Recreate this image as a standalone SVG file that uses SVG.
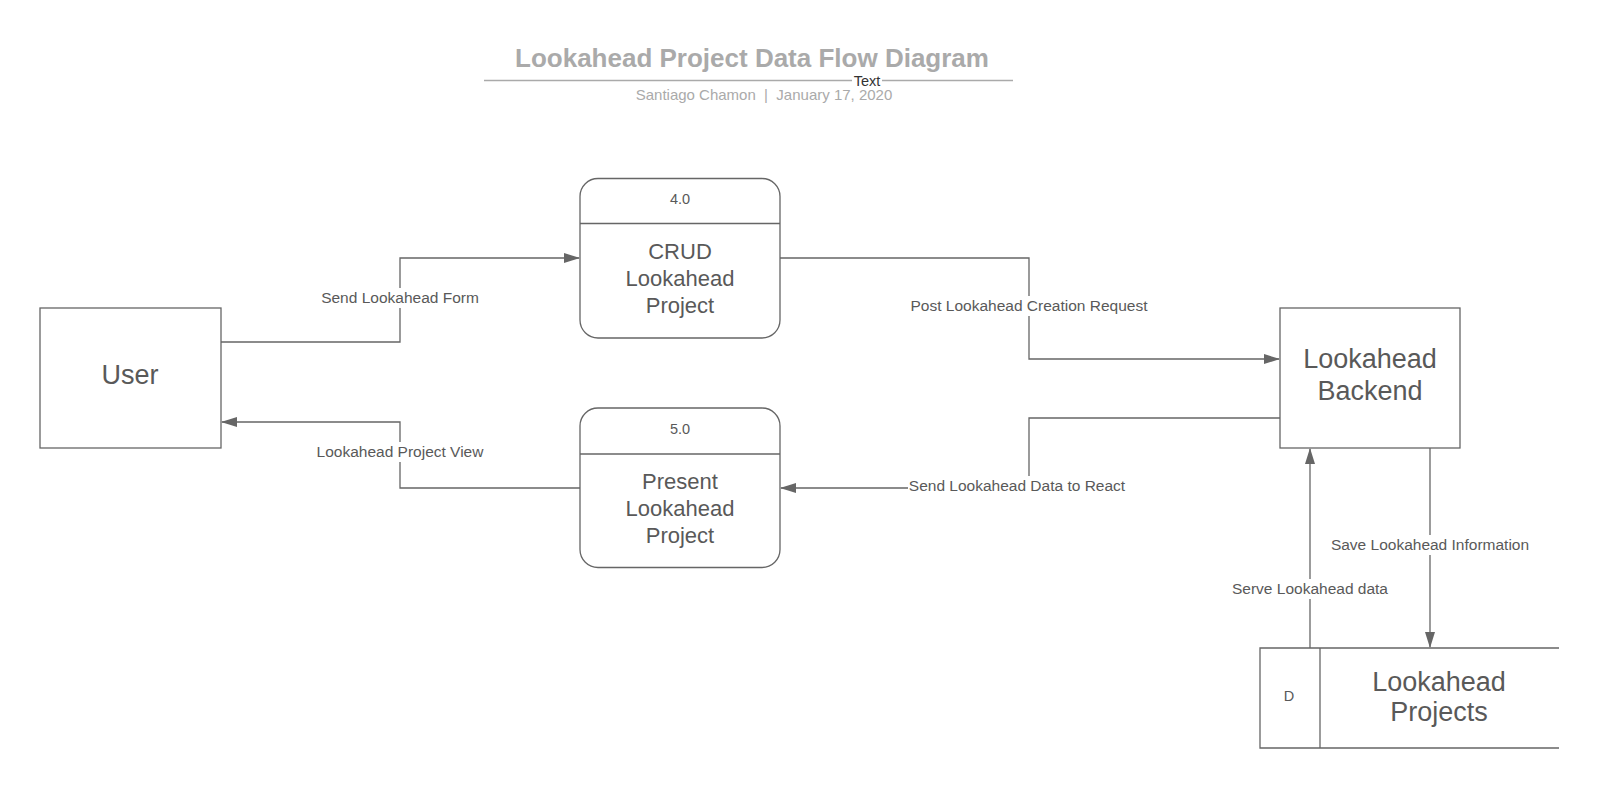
<svg xmlns="http://www.w3.org/2000/svg" width="1600" height="789" viewBox="0 0 1600 789">
<defs>
<marker id="arr" markerWidth="16" markerHeight="10" refX="15" refY="5" orient="auto" markerUnits="userSpaceOnUse">
<path d="M0,0 L16,5 L0,10 Z" fill="#666"/>
</marker>
<style>
text{font-family:"Liberation Sans",Arial,sans-serif;fill:#595959}
.box{fill:#fff;stroke:#666;stroke-width:1.3}
.ln{fill:none;stroke:#666;stroke-width:1.3}
.big{font-size:27px;text-anchor:middle}
.mid{font-size:22px;text-anchor:middle}
.num{font-size:14.5px;text-anchor:middle}
.lbl{font-size:15.5px;text-anchor:middle}
.lblbg{fill:#fff}
</style>
</defs>
<rect width="1600" height="789" fill="#fff"/>
<g id="title">
<text x="752" y="67" style="font-size:26px;font-weight:bold;fill:#aaa;text-anchor:middle">Lookahead Project Data Flow Diagram</text>
<line x1="484" y1="80.5" x2="1013" y2="80.5" stroke="#aaa" stroke-width="1.5"/>
<rect x="852" y="74" width="30" height="12" fill="#fff"/>
<text x="867" y="85.5" style="font-size:14.5px;fill:#333;text-anchor:middle">Text</text>
<text x="764" y="99.5" xml:space="preserve" style="font-size:15px;fill:#aaa;text-anchor:middle;white-space:pre">Santiago Chamon  |  January 17, 2020</text>
</g>
<g id="connectors">
<polyline class="ln" points="221,342 400,342 400,258 579,258" marker-end="url(#arr)"/>
<polyline class="ln" points="580,488 400,488 400,422 222,422" marker-end="url(#arr)"/>
<polyline class="ln" points="780,258 1029,258 1029,359 1279,359" marker-end="url(#arr)"/>
<polyline class="ln" points="1280,418 1029,418 1029,488 781,488" marker-end="url(#arr)"/>
<polyline class="ln" points="1430,448 1430,647" marker-end="url(#arr)"/>
<polyline class="ln" points="1310,648 1310,449" marker-end="url(#arr)"/>
<rect class="lblbg" x="320" y="288" width="160" height="20"/>
<text class="lbl" x="400" y="303">Send Lookahead Form</text>
<rect class="lblbg" x="315" y="442" width="170" height="20"/>
<text class="lbl" x="400" y="457">Lookahead Project View</text>
<rect class="lblbg" x="909" y="296" width="240" height="20"/>
<text class="lbl" x="1029" y="311">Post Lookahead Creation Request</text>
<rect class="lblbg" x="908" y="476" width="218" height="20"/>
<text class="lbl" x="1017" y="491">Send Lookahead Data to React</text>
<rect class="lblbg" x="1329" y="535" width="202" height="20"/>
<text class="lbl" x="1430" y="550">Save Lookahead Information</text>
<rect class="lblbg" x="1231" y="579" width="158" height="20"/>
<text class="lbl" x="1310" y="594">Serve Lookahead data</text>
</g>
<g id="user">
<rect class="box" x="40" y="308" width="181" height="140"/>
<text class="big" x="130" y="384">User</text>
</g>
<g id="p4">
<rect class="box" x="580" y="178.5" width="200" height="159.5" rx="18"/>
<line class="ln" x1="580" y1="223.5" x2="780" y2="223.5"/>
<text class="num" x="680" y="204">4.0</text>
<text class="mid" x="680" y="259">CRUD</text>
<text class="mid" x="680" y="286">Lookahead</text>
<text class="mid" x="680" y="313">Project</text>
</g>
<g id="p5">
<rect class="box" x="580" y="408" width="200" height="159.5" rx="18"/>
<line class="ln" x1="580" y1="454" x2="780" y2="454"/>
<text class="num" x="680" y="434">5.0</text>
<text class="mid" x="680" y="489">Present</text>
<text class="mid" x="680" y="516">Lookahead</text>
<text class="mid" x="680" y="543">Project</text>
</g>
<g id="backend">
<rect class="box" x="1280" y="308" width="180" height="140"/>
<text class="big" x="1370" y="368">Lookahead</text>
<text class="big" x="1370" y="400">Backend</text>
</g>
<g id="store">
<polyline class="ln" points="1559,648 1260,648 1260,748 1559,748"/>
<line class="ln" x1="1320" y1="648" x2="1320" y2="748"/>
<text class="num" x="1289" y="701">D</text>
<text class="big" x="1439" y="691">Lookahead</text>
<text class="big" x="1439" y="721">Projects</text>
</g>
</svg>
